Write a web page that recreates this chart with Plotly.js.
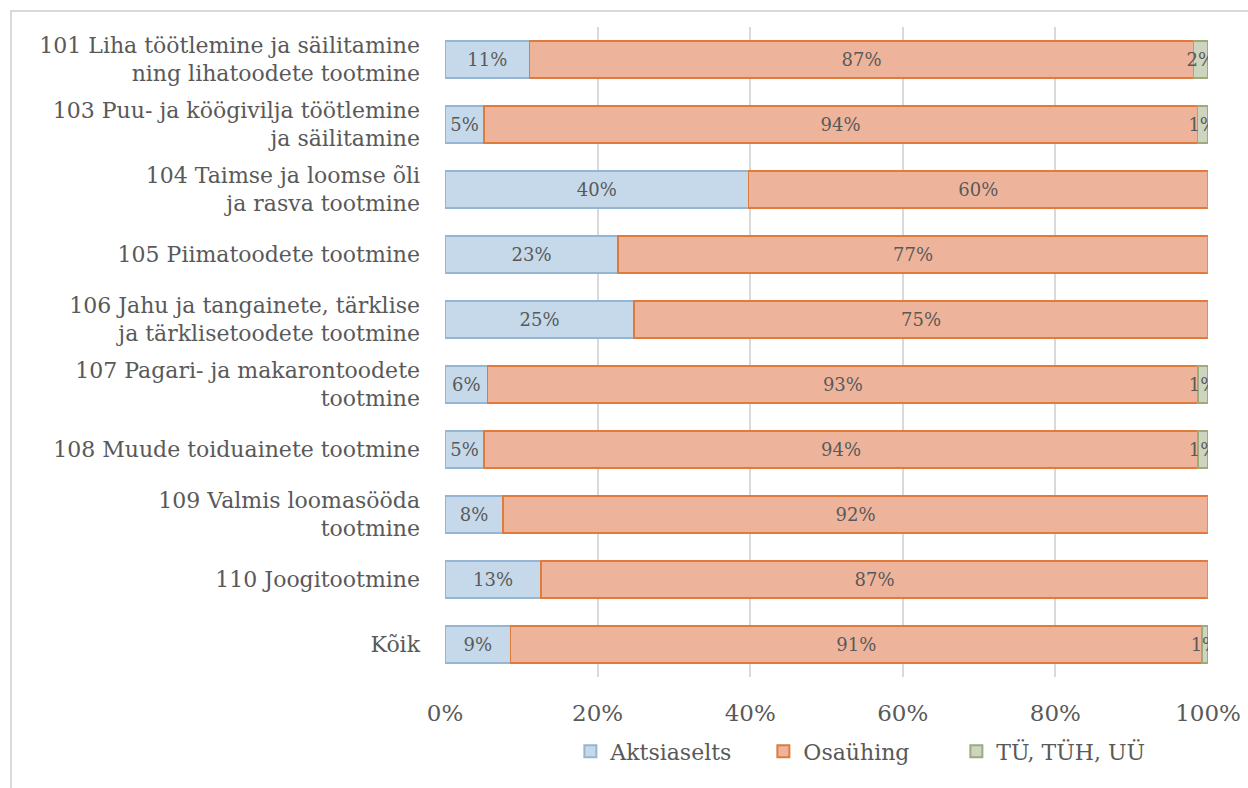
<!DOCTYPE html>
<html>
<head>
<meta charset="utf-8">
<script src="https://cdn.plot.ly/plotly-3.0.1.min.js"></script>
<style>
  html, body { margin: 0; padding: 0; background: #fff; }
  #wrap { position: relative; width: 1248px; height: 788px; overflow: hidden; }
  #chart { position: absolute; left: 0; top: 0; width: 1248px; height: 788px; }
  #frame { position: absolute; left: 10px; top: 10px; width: 1300px; height: 900px;
           border-left: 2px solid #d9d9d9; border-top: 2px solid #d9d9d9; pointer-events: none; }
</style>
</head>
<body>
<div id="wrap">
  <div id="chart"></div>
  <div id="frame"></div>
</div>
<script>
const categories = [
  "101 Liha töötlemine ja säilitamine<br>ning lihatoodete tootmine",
  "103 Puu- ja köögivilja töötlemine<br>ja säilitamine",
  "104 Taimse ja loomse õli<br>ja rasva tootmine",
  "105 Piimatoodete tootmine",
  "106 Jahu ja tangainete, tärklise<br>ja tärklisetoodete tootmine",
  "107 Pagari- ja makarontoodete<br>tootmine",
  "108 Muude toiduainete tootmine",
  "109 Valmis loomasööda<br>tootmine",
  "110 Joogitootmine",
  "Kõik"
];
const aktsiaselts = [11.1, 5.1, 39.8, 22.7, 24.8, 5.6, 5.1, 7.6, 12.6, 8.6];
const osayhing    = [87.0, 93.5, 60.2, 77.3, 75.2, 93.1, 93.6, 92.4, 87.4, 90.6];
const tyh         = [1.9, 1.4, 0, 0, 0, 1.3, 1.3, 0, 0, 0.8];
const seriesNames = ["Aktsiaselts", "Osaühing", "TÜ, TÜH, UÜ"];
const tickVals = [0, 20, 40, 60, 80, 100];
const tickText = ["0%", "20%", "40%", "60%", "80%", "100%"];

const fontFam = "'DejaVu Serif', 'Liberation Serif', serif";
const txtColor = "#595959";

function mkTrace(name, vals, fill, line) {
  return {
    type: "bar", orientation: "h", name: name,
    y: categories, x: vals,
    text: vals.map(v => v > 0 ? Math.round(v) + "%" : ""),
    texttemplate: "%{text}",
    textposition: "inside", insidetextanchor: "middle",
    textangle: 0,
    constraintext: "none",
    textfont: { family: fontFam, size: 18, color: txtColor },
    marker: { color: fill, line: { color: line, width: 1.5 } },
    hoverinfo: "none"
  };
}

const data = [
  mkTrace(seriesNames[0], aktsiaselts, "#c6d9ea", "#95b5d4"),
  mkTrace(seriesNames[1], osayhing, "#eeb49b", "#e07b3c"),
  mkTrace(seriesNames[2], tyh, "#cdd5bf", "#9bab7c")
];

const layout = {
  width: 1248, height: 788,
  barmode: "stack", bargap: 0.43,
  paper_bgcolor: "#fff", plot_bgcolor: "#fff",
  margin: { l: 445, r: 40, t: 27, b: 111, pad: 0 },
  font: { family: fontFam, color: txtColor },
  uniformtext: { mode: "show", minsize: 18 },
  xaxis: {
    range: [0, 100], tickvals: tickVals, ticktext: tickText,
    showgrid: true, gridcolor: "#d9d9d9", gridwidth: 2,
    zeroline: false, showline: false, ticks: "",
    tickfont: { family: fontFam, size: 23, color: txtColor },
    ticklabelstandoff: 20
  },
  yaxis: {
    categoryorder: "array", categoryarray: categories,
    autorange: "reversed", showgrid: false, zeroline: false,
    showline: false, ticks: "",
    tickfont: { family: fontFam, size: 22, color: txtColor },
    ticklabelstandoff: 24
  },
  showlegend: true,
  legend: {
    orientation: "h", xref: "container", yref: "container",
    x: 0.689, xanchor: "center", y: 0.073, yanchor: "top",
    font: { family: fontFam, size: 22, color: txtColor },
    traceorder: "normal", itemsizing: "constant",
    entrywidth: 148, entrywidthmode: "pixels"
  }
};

Plotly.newPlot("chart", data, layout, { staticPlot: true, displayModeBar: false });
</script>
</body>
</html>
